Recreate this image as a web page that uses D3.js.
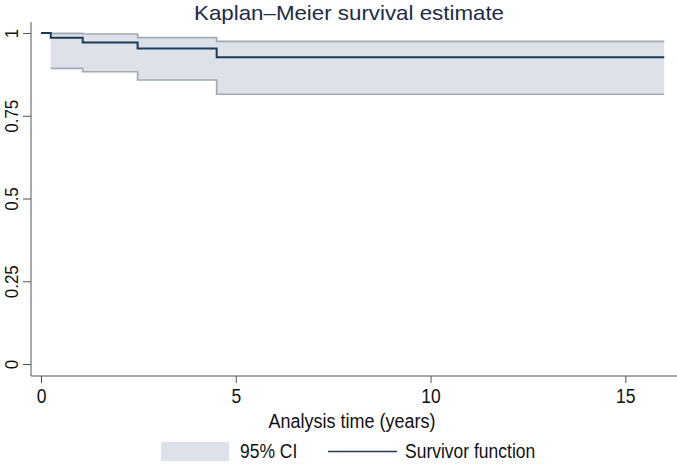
<!DOCTYPE html>
<html><head><meta charset="utf-8">
<script src="https://cdn.jsdelivr.net/npm/d3@7"></script>
<style>body{margin:0;background:#fff}svg{display:block;font-family:"Liberation Sans",Arial,sans-serif}</style>
</head><body>
<script>
// Data
const times    = [0, 0.25, 1.07, 2.48, 4.51, 16.0];
const survival = [1, 0.986, 0.971, 0.953, 0.927, 0.927];
const ciTimes  = [0.25, 1.07, 2.48, 4.51, 16.0];
const ciUpper  = [0.999, 0.997, 0.986, 0.975, 0.975];
const ciLower  = [0.893, 0.883, 0.858, 0.815, 0.815];
const xTicks   = [0, 5, 10, 15];
const yTicks   = [0, 0.25, 0.5, 0.75, 1];
const yTickLabels = ["0", "0.25", "0.5", "0.75", "1"];
const title = "Kaplan–Meier survival estimate";
const xTitle = "Analysis time (years)";
const legendLabels = ["95% CI", "Survivor function"];

const W = 677, H = 464;
const svg = d3.select("body").append("svg").attr("width", W).attr("height", H);
const x = d3.scaleLinear().domain([0, 15]).range([41, 625.3]);
const y = d3.scaleLinear().domain([0, 1]).range([364, 33]);
const fillC = "#dde2ea", ciC = "#a0aab5", lineC = "#1d3a58", axC = "#555", txtC = "#111";
const SY = 1.12; // vertical glyph stretch seen in the reference

function label(sel, px, py, str, size, anchor, color, sy) {
  return sel.append("text")
    .attr("transform", `translate(${px},${py}) scale(1,${sy || SY})`)
    .attr("text-anchor", anchor).attr("font-size", size).attr("fill", color).text(str);
}

// CI band
const ci = ciTimes.map((t, i) => ({t, u: ciUpper[i], l: ciLower[i]}));
svg.append("path").datum(ci)
  .attr("d", d3.area().curve(d3.curveStepAfter).x(d => x(d.t)).y0(d => y(d.l)).y1(d => y(d.u)))
  .attr("fill", fillC);
["u", "l"].forEach(k => {
  svg.append("path").datum(ci)
    .attr("d", d3.line().curve(d3.curveStepAfter).x(d => x(d.t)).y(d => y(d[k])))
    .attr("fill", "none").attr("stroke", ciC).attr("stroke-width", 1.7);
});
// Survivor function
const sv = times.map((t, i) => ({t, s: survival[i]}));
svg.append("path").datum(sv)
  .attr("d", d3.line().curve(d3.curveStepAfter).x(d => x(d.t)).y(d => y(d.s)))
  .attr("fill", "none").attr("stroke", lineC).attr("stroke-width", 2);

// Y axis
const yAxis = svg.append("g").attr("transform", "translate(31,0)")
  .call(d3.axisLeft(y).tickValues(yTicks).tickSize(8).tickFormat((d, i) => yTickLabels[i]));
yAxis.select(".domain").remove();
yAxis.append("line").attr("x1", 0).attr("x2", 0).attr("y1", 22).attr("y2", 376).attr("stroke", axC);
yAxis.selectAll(".tick line").attr("stroke", axC);
yAxis.selectAll(".tick text").attr("fill", txtC).attr("font-size", 17)
  .attr("x", 0).attr("y", 0).attr("dy", 0).attr("text-anchor", "middle")
  .attr("transform", `translate(-13.5,0) rotate(-90) scale(1,${SY})`);

// X axis
const xAxis = svg.append("g").attr("transform", "translate(0,376)")
  .call(d3.axisBottom(x).tickValues(xTicks).tickSize(7).tickFormat(d3.format("d")));
xAxis.select(".domain").remove();
xAxis.append("line").attr("x1", 31).attr("x2", 677).attr("y1", 0).attr("y2", 0).attr("stroke", axC);
xAxis.selectAll(".tick line").attr("stroke", axC);
xAxis.selectAll(".tick text").attr("fill", txtC).attr("font-size", 17.5)
  .attr("y", 0).attr("dy", 0).attr("transform", `translate(0,26.5) scale(1,${SY})`);

// Titles
label(svg, 349, 19.5, title, 21, "middle", "#1c2b48", 1)
  .attr("textLength", 310).attr("lengthAdjust", "spacingAndGlyphs");
label(svg, 352, 428, xTitle, 18, "middle", txtC);

// Legend
svg.append("rect").attr("x", 161).attr("y", 442).attr("width", 68).attr("height", 19).attr("fill", fillC);
label(svg, 240, 458, legendLabels[0], 17.5, "start", txtC);
svg.append("line").attr("x1", 328).attr("x2", 397).attr("y1", 451.5).attr("y2", 451.5)
  .attr("stroke", lineC).attr("stroke-width", 1.5);
label(svg, 405, 458, legendLabels[1], 17.5, "start", txtC);
</script>
</body></html>
